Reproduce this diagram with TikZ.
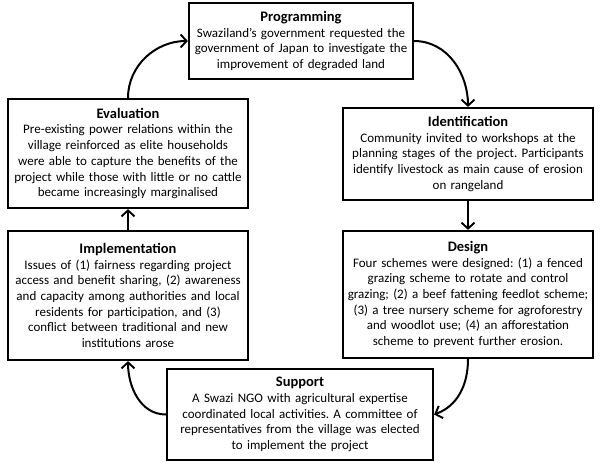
\documentclass[tikz,border=0pt]{standalone}
\usepackage{fontspec}
\setmainfont{Carlito}
\usetikzlibrary{arrows.meta}
\newcommand{\stitle}[1]{{\fontsize{14.5}{16}\selectfont\textbf{#1}}}
\begin{document}
\begin{tikzpicture}[x=1pt,y=1pt,
  stage/.style={draw, line width=2.2pt, align=center, inner sep=0pt,
    font=\fontsize{13}{15.7}\selectfont\frenchspacing},
  flow/.style={line width=2pt, -{Straight Barb[length=6pt,width=13pt,line width=1.9pt]}}]
\useasboundingbox (0,0) rectangle (600,-466);
\node[stage, minimum width=224pt, minimum height=76pt, text width=220pt] (prog) at (301,-41)
  {\stitle{Programming}\\Swaziland’s government requested the\\government of Japan to investigate the\\improvement of degraded land};
\node[stage, minimum width=250pt, minimum height=92pt, text width=246pt] (ident) at (468,-154)
  {\stitle{Identification}\\Community invited to workshops at the\\planning stages of the project. Participants\\identify livestock as main cause of erosion\\on rangeland};
\node[stage, minimum width=250pt, minimum height=127pt, text width=246pt] (design) at (468,-294.5)
  {\stitle{Design}\\Four schemes were designed: (1) a fenced\\grazing scheme to rotate and control\\grazing; (2) a beef fattening feedlot scheme;\\(3) a tree nursery scheme for agroforestry\\and woodlot use; (4) an afforestation\\scheme to prevent further erosion.};
\node[stage, minimum width=266pt, minimum height=91pt, text width=262pt] (support) at (300,-414.5)
  {\stitle{Support}\\A Swazi NGO with agricultural expertise\\coordinated local activities. A committee of\\representatives from the village was elected\\to implement the project};
\node[stage, minimum width=240pt, minimum height=129pt, text width=236pt] (impl) at (128,-295.5)
  {\stitle{Implementation}\\Issues of (1) fairness regarding project\\access and benefit sharing, (2) awareness\\and capacity among authorities and local\\residents for participation, and (3)\\conflict between traditional and new\\institutions arose};
\node[stage, minimum width=240pt, minimum height=109pt, text width=236pt] (eval) at (128,-153.5)
  {\stitle{Evaluation}\\Pre-existing power relations within the\\village reinforced as elite households\\were able to capture the benefits of the\\project while those with little or no cattle\\became increasingly marginalised};
\draw[flow] (prog.east) to[out=0,in=90] (ident.north);
\draw[flow] (ident.south) -- (design.north);
\draw[flow] (design.south) to[out=-90,in=20] (support.east);
\draw[flow] (support.west) to[out=180,in=-90] (impl.south);
\draw[flow] (impl.north) -- (eval.south);
\draw[flow] (eval.north) to[out=90,in=180] (prog.west);
\end{tikzpicture}
\end{document}
